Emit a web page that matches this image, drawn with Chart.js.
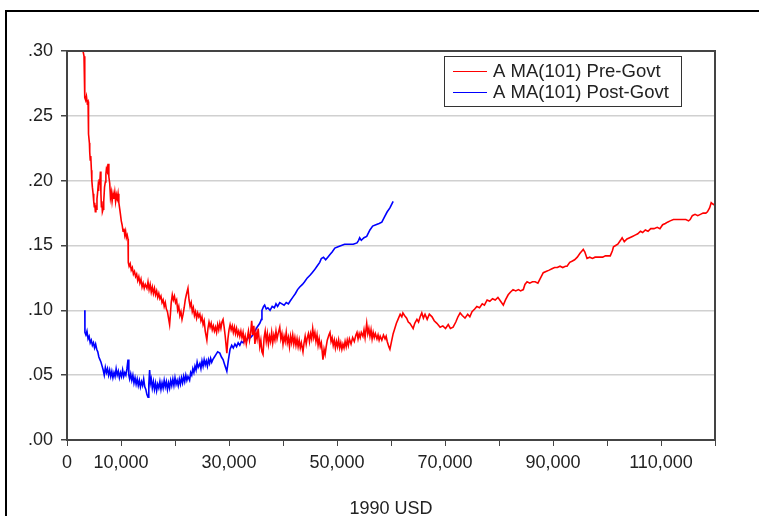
<!DOCTYPE html>
<html>
<head>
<meta charset="utf-8">
<script src="https://cdn.jsdelivr.net/npm/chart.js@4"></script>
<style>
  html, body { margin: 0; padding: 0; background: #fff; }
  #wrap { position: relative; width: 759px; height: 516px; overflow: hidden; }
  #frame { position: absolute; left: 5px; top: 10px; width: 900px; height: 700px;
           border-left: 2px solid #000; border-top: 2px solid #000; pointer-events: none; }
  canvas { position: absolute; left: 0; top: 0; }
</style>
</head>
<body>
<div id="wrap">
  <div id="frame"></div>
  <canvas id="chart" width="759" height="516"></canvas>
</div>
<script>
/* moving averages of A, pre and post government, by income (1990 USD) */

const preLabel = "A MA(101) Pre-Govt";
const postLabel = "A MA(101) Post-Govt";

const yTicks = [0, 0.05, 0.10, 0.15, 0.20, 0.25, 0.30];
const xLabelled = [0, 10000, 30000, 50000, 70000, 90000, 110000];

// pre-govt series
const preX = [
2970,3150,3280,3300,3450,3600,3750,3900,3920,4050,4150,4210,4300,4400,4520,4600,4700,4830,4950,5050,
5130,5250,5350,5450,5550,5650,5750,5850,5950,6050,6190,6280,6370,6450,6550,6680,6800,6950,7100,7200,
7300,7450,7600,7750,7910,8050,8200,8350,8530,8700,8850,9000,9150,9300,9450,9600,9770,9900,10050,10200,
10380,10550,10700,10850,11000,11150,11300,11350,11500,11700,11900,12100,12300,12500,12700,12900,13100,13300,13500,13700,
13900,14100,14300,14500,14800,15000,15200,15400,15600,15800,16000,16200,16400,16600,16800,17000,17200,17400,17600,17800,
18000,18200,18400,18600,18800,19000,19150,19300,19500,19700,19900,20100,20300,20500,20700,20900,21100,21300,21500,21700,
21900,22100,22400,22600,22800,23000,23200,23400,23600,23800,24000,24200,24400,24600,24800,25000,25200,25400,25600,25900,
26100,26300,26500,26700,26900,27100,27300,27500,27700,27900,28100,28300,28500,28700,28900,29100,29300,29600,29800,30000,
30200,30400,30600,30800,31000,31200,31400,31600,31800,32000,32200,32400,32600,32800,33000,33200,33400,33600,33800,34000,
34200,34400,34600,34800,35000,35200,35400,35700,35900,36100,36300,36500,36700,36900,37100,37300,37500,37700,37900,38100,
38300,38500,38700,38900,39100,39400,39600,39800,40000,40200,40400,40600,40800,41000,41200,41400,41600,41800,42000,42200,
42400,42600,42800,43000,43200,43400,43700,43900,44100,44300,44500,44700,44900,45100,45300,45500,45700,45900,46100,46300,
46500,46700,46900,47100,47400,47600,47800,48000,48200,48500,48700,48900,49100,49300,49500,49700,49900,50100,50300,50500,
50700,50900,51100,51300,51500,51700,51900,52100,52300,52600,52900,53200,53500,53700,53900,54100,54300,54500,54800,55000,
55200,55500,55700,55900,56100,56300,56500,56700,56900,57100,57400,57600,57800,58000,58300,58600,58900,59100,59300,59600,
59800,60100,60400,60700,61000,61300,61700,62000,62200,62500,62900,63200,63500,63800,64100,64400,64800,65100,65400,65700,
66000,66300,66700,67100,67600,68000,68500,69100,69600,70100,70600,71000,71500,72000,72400,72800,73200,73700,74200,74600,
75000,75500,75900,76400,76900,77300,77800,78300,78800,79300,79800,80300,80800,81200,81700,82100,82600,83100,83600,84000,
84500,84800,85200,85700,86200,86700,87200,87700,88200,88700,89300,89800,90300,90800,91300,91800,92300,92600,93100,93600,
94000,94500,95000,95400,95600,95900,96300,96800,97300,97800,98200,98700,99200,99700,100200,100600,101000,101200,101600,102000,
102500,102800,103200,103700,104200,104700,105200,105700,106200,106600,107100,107600,108100,108700,109300,109800,110300,110800,111200,111700,
112300,112800,113400,114000,114600,115100,115400,115800,116300,116800,117300,117800,118300,118600,119000,119300,119600,120000
];
const preY = [
.300,.296,.293,.264,.262,.265,.260,.261,.240,.236,.229,.222,.216,.219,.208,.200,.195,.190,.184,.180,
.183,.176,.181,.178,.186,.190,.195,.192,.201,.197,.207,.190,.180,.184,.176,.178,.184,.195,.199,.205,
.209,.207,.213,.203,.198,.187,.191,.184,.190,.186,.191,.184,.189,.186,.190,.183,.178,.174,.169,.166,
.161,.163,.158,.161,.156,.158,.155,.137,.134,.136,.131,.133,.128,.130,.126,.128,.123,.126,.121,.124,
.118,.121,.117,.120,.117,.122,.116,.120,.114,.118,.113,.117,.112,.115,.110,.113,.109,.111,.106,.108,
.103,.106,.101,.099,.094,.089,.097,.106,.112,.108,.111,.106,.108,.100,.103,.096,.099,.093,.097,.102,
.108,.112,.117,.108,.103,.106,.099,.102,.096,.099,.094,.098,.095,.097,.092,.095,.089,.092,.084,.077,
.086,.091,.087,.090,.085,.088,.084,.087,.083,.089,.085,.090,.086,.091,.093,.087,.080,.067,.078,.085,
.089,.085,.088,.083,.087,.082,.086,.081,.084,.080,.084,.079,.083,.076,.080,.074,.079,.084,.077,.082,
.092,.081,.088,.074,.083,.078,.086,.072,.077,.068,.066,.079,.084,.076,.082,.074,.080,.076,.083,.075,
.081,.077,.084,.078,.082,.087,.078,.082,.074,.080,.076,.083,.075,.079,.072,.080,.075,.081,.074,.079,
.073,.078,.072,.077,.071,.075,.068,.075,.080,.074,.079,.082,.076,.082,.078,.086,.079,.083,.076,.081,
.073,.078,.072,.075,.062,.070,.066,.072,.077,.081,.083,.076,.079,.073,.077,.071,.076,.072,.077,.071,
.075,.070,.074,.071,.076,.072,.077,.073,.078,.074,.079,.076,.081,.083,.078,.082,.079,.083,.080,.085,
.079,.090,.082,.086,.080,.085,.078,.083,.079,.082,.078,.081,.077,.080,.077,.081,.078,.080,.076,.072,
.070,.076,.082,.086,.090,.093,.097,.095,.098,.096,.094,.091,.090,.088,.086,.090,.093,.091,.095,.098,
.094,.097,.093,.097,.095,.092,.090,.087,.088,.086,.089,.086,.087,.091,.095,.098,.096,.094,.097,.095,
.099,.101,.103,.102,.105,.104,.108,.107,.109,.108,.110,.107,.104,.108,.112,.114,.116,.115,.116,.115,
.116,.120,.122,.121,.122,.122,.121,.125,.129,.130,.131,.132,.133,.133,.134,.133,.134,.134,.137,.138,
.139,.141,.144,.146,.147,.145,.140,.141,.140,.141,.141,.141,.141,.142,.142,.142,.146,.149,.150,.151,
.154,.156,.153,.155,.156,.157,.158,.159,.161,.160,.162,.161,.163,.163,.164,.163,.166,.167,.168,.169,
.170,.170,.170,.170,.170,.169,.170,.173,.174,.173,.174,.175,.175,.176,.179,.183,.182,.181
];

// post-govt series
const postX = [
3300,3320,3500,3700,3900,4100,4300,4500,4700,4900,5100,5300,5500,5700,5900,6100,6300,6500,6700,6900,
7100,7300,7500,7700,7900,8100,8300,8500,8700,8900,9100,9300,9500,9700,9900,10100,10300,10500,10700,10900,
11100,11300,11450,11600,11800,12000,12200,12400,12600,12800,13000,13200,13400,13600,13800,14000,14200,14400,14600,14800,
15000,15150,15300,15450,15600,15800,16000,16200,16400,16600,16800,17000,17200,17400,17600,17800,18000,18200,18400,18600,
18800,19000,19200,19400,19600,19800,20000,20200,20400,20600,20800,21000,21200,21400,21600,21800,22000,22200,22400,22700,
22900,23100,23300,23500,23700,23900,24100,24300,24600,24800,25000,25200,25400,25600,25800,26000,26200,26400,26600,26800,
27000,27300,27600,27900,28300,28600,28900,29200,29600,29900,30200,30500,30800,31100,31400,31700,32000,32300,32600,33000,
33300,33700,34000,34400,34800,35200,35700,36000,36100,36400,36600,36900,37200,37600,38000,38400,38700,39000,39400,39800,
40200,40600,41000,41300,41800,42300,42700,43100,43600,44000,44500,45000,45400,45800,46300,46800,47100,47500,47900,48300,
48700,49100,49600,50200,50800,51400,51800,52400,53000,53700,54000,54200,54500,55000,55500,56100,56600,57200,57800,58300,
58800,59300,59800,60400
];
const postY = [
.100,.083,.081,.084,.078,.080,.075,.077,.073,.075,.071,.074,.070,.068,.064,.062,.060,.057,.054,.050,
.056,.052,.055,.050,.054,.049,.053,.048,.052,.049,.055,.050,.053,.048,.052,.049,.054,.049,.052,.050,
.055,.062,.050,.047,.051,.046,.050,.044,.048,.043,.047,.042,.046,.041,.045,.042,.047,.041,.039,.035,
.033,.043,.054,.044,.047,.040,.045,.039,.044,.038,.043,.040,.045,.039,.044,.040,.046,.041,.045,.039,
.044,.040,.046,.042,.047,.042,.048,.043,.046,.042,.047,.043,.048,.044,.049,.045,.050,.046,.049,.046,
.052,.050,.055,.052,.057,.054,.060,.056,.059,.055,.061,.057,.062,.058,.061,.057,.062,.059,.063,.060,
.062,.064,.066,.068,.067,.064,.062,.058,.053,.062,.070,.073,.071,.074,.072,.075,.073,.076,.075,.078,
.077,.080,.079,.081,.084,.087,.090,.093,.100,.103,.104,.101,.102,.100,.103,.102,.105,.103,.106,.105,
.104,.106,.105,.107,.110,.113,.116,.118,.120,.122,.125,.127,.129,.131,.134,.137,.140,.141,.139,.141,
.143,.145,.148,.149,.150,.151,.151,.151,.151,.152,.154,.156,.154,.156,.157,.162,.165,.166,.167,.168,
.172,.176,.179,.184
];

const toPoints = (xs, ys) => xs.map((x, i) => ({ x: x, y: ys[i] }));

Chart.defaults.font.family = "'Liberation Sans', Arial, sans-serif";
Chart.defaults.font.size = 18;
Chart.defaults.color = "#222";

// plot box on all four sides
const frame = {
  id: "frame",
  afterDatasetsDraw(chart) {
    const a = chart.chartArea, c = chart.ctx;
    c.save();
    c.strokeStyle = "#444";
    c.lineWidth = 2;
    c.strokeRect(a.left, a.top, a.right - a.left, a.bottom - a.top);
    c.restore();
  }
};

// legend box drawn inside the plot, top right
const boxLegend = {
  id: "boxLegend",
  afterDraw(chart) {
    const c = chart.ctx;
    const x = 444, y = 56, w = 237, h = 50;
    c.save();
    c.fillStyle = "#fff";
    c.fillRect(x, y, w, h);
    c.strokeStyle = "#333";
    c.lineWidth = 1;
    c.strokeRect(x + 0.5, y + 0.5, w, h);
    c.font = "18.5px 'Liberation Sans', Arial, sans-serif";
    c.textBaseline = "middle";
    chart.data.datasets.forEach((ds, i) => {
      const ly = y + 15 + i * 21;
      c.strokeStyle = ds.borderColor;
      c.beginPath();
      c.moveTo(x + 9, ly + 0.5);
      c.lineTo(x + 43, ly + 0.5);
      c.stroke();
      c.fillStyle = "#222";
      c.fillText(ds.label, x + 49, ly + 1);
    });
    c.restore();
  }
};

new Chart(document.getElementById("chart"), {
  type: "line",
  data: {
    datasets: [
      { label: preLabel, data: toPoints(preX, preY), borderColor: "#ff0000", borderWidth: 1.6,
        pointRadius: 0, tension: 0, fill: false },
      { label: postLabel, data: toPoints(postX, postY), borderColor: "#0000ff", borderWidth: 1.6,
        pointRadius: 0, tension: 0, fill: false }
    ]
  },
  options: {
    responsive: false,
    animation: false,
    layout: { padding: { top: 51, right: 44, left: 0, bottom: 0 } },
    plugins: { legend: { display: false }, tooltip: { enabled: false } },
    scales: {
      x: {
        type: "linear",
        min: 0,
        max: 120000,
        afterFit: s => { s.height = 76; },
        border: { display: true, color: "#444", width: 2 },
        grid: { drawOnChartArea: false, tickLength: 6, color: "#444" },
        ticks: {
          stepSize: 10000,
          autoSkip: false,
          maxRotation: 0,
          minRotation: 0,
          padding: 6,
          callback: v => xLabelled.includes(v) ? v.toLocaleString("en-US") : ""
        },
        title: { display: true, text: "1990 USD", padding: { top: 0, bottom: -4 } }
      },
      y: {
        min: 0,
        max: 0.30,
        afterFit: s => { s.width = 67; },
        afterBuildTicks: s => { s.ticks = yTicks.map(v => ({ value: v })); },
        border: { display: true, color: "#444", width: 2 },
        grid: { color: "#d0d0d0", lineWidth: 1.5, tickColor: "#444", tickLength: 6 },
        ticks: {
          padding: 8,
          callback: v => v.toFixed(2).slice(1)
        }
      }
    }
  },
  plugins: [frame, boxLegend]
});
</script>
</body>
</html>
